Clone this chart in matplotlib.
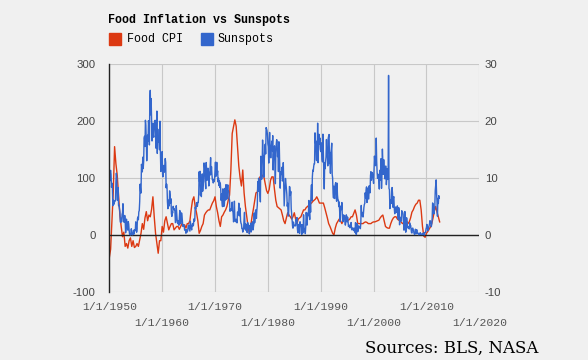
import matplotlib
matplotlib.use('Agg')
import matplotlib.pyplot as plt
from matplotlib.patches import Rectangle
import numpy as np

plt.rcParams['axes.unicode_minus'] = False

# monthly sunspot numbers, Jan 1950 .. Jun 2012 (one row per year)
sun_start = 1950
sunspots = [
    101.6, 94.8, 109.7, 113.4, 106.2, 83.6, 91.0, 85.2, 51.3, 61.4, 54.8, 54.1,
    59.9, 59.9, 59.9, 92.9, 108.5, 100.6, 61.5, 61.0, 83.1, 51.6, 52.4, 45.8,
    40.7, 22.7, 22.0, 29.1, 23.4, 36.4, 39.3, 54.9, 28.2, 23.8, 22.1, 34.3,
    26.5, 3.9, 10.0, 27.8, 12.5, 21.8, 8.6, 23.5, 19.3, 8.2, 1.6, 2.5,
    0.2, 0.5, 10.9, 1.8, 0.8, 0.2, 4.8, 8.4, 1.5, 7.0, 9.2, 7.6,
    23.1, 20.8, 4.9, 11.3, 28.9, 31.7, 26.7, 40.7, 42.7, 58.5, 89.2, 76.9,
    73.6, 124.0, 118.4, 110.7, 136.6, 116.6, 129.1, 169.6, 173.2, 155.3, 201.3, 192.1,
    165.0, 130.2, 157.4, 175.2, 164.6, 200.7, 187.2, 158.0, 235.8, 253.8, 210.9, 239.4,
    202.5, 164.9, 190.7, 196.0, 175.3, 171.5, 191.4, 200.2, 201.2, 181.5, 152.3, 187.6,
    217.4, 143.1, 185.7, 163.3, 172.0, 168.7, 149.6, 199.6, 145.2, 111.4, 124.0, 125.0,
    146.3, 106.0, 102.2, 122.0, 119.6, 110.2, 121.7, 134.1, 127.2, 82.8, 89.6, 85.6,
    57.9, 46.1, 53.0, 61.4, 51.0, 77.4, 70.2, 55.9, 63.6, 37.7, 32.6, 40.0,
    38.7, 50.3, 45.6, 46.4, 43.7, 42.0, 21.8, 21.8, 51.3, 39.5, 26.9, 23.2,
    19.8, 24.4, 17.1, 29.3, 43.0, 35.9, 19.6, 33.2, 38.8, 35.3, 23.4, 14.9,
    15.3, 17.7, 16.5, 8.6, 9.5, 9.1, 3.1, 9.3, 4.7, 6.1, 7.4, 15.1,
    17.5, 14.2, 11.7, 6.8, 24.1, 15.9, 11.9, 8.9, 16.8, 20.1, 15.8, 17.0,
    28.2, 24.4, 25.3, 48.7, 45.3, 47.7, 56.7, 51.2, 50.2, 57.2, 57.2, 70.4,
    110.9, 93.6, 111.8, 69.5, 86.5, 67.3, 91.5, 107.2, 76.8, 88.2, 94.3, 126.4,
    121.8, 111.9, 92.2, 81.2, 127.2, 110.3, 96.1, 109.3, 117.2, 107.7, 86.0, 109.8,
    104.4, 120.5, 135.8, 106.8, 120.0, 106.0, 96.8, 98.0, 91.3, 95.7, 93.5, 97.9,
    111.5, 127.8, 102.9, 109.5, 127.5, 106.8, 112.5, 93.0, 99.5, 86.6, 95.2, 83.5,
    91.3, 79.0, 60.7, 71.8, 57.5, 49.8, 81.0, 61.4, 50.2, 51.7, 63.2, 82.2,
    61.5, 88.4, 80.1, 63.2, 80.5, 88.0, 76.5, 76.8, 64.0, 61.3, 41.6, 45.3,
    43.4, 42.9, 46.0, 57.7, 42.4, 39.5, 23.1, 25.6, 59.3, 30.7, 23.9, 23.3,
    27.6, 26.0, 21.3, 40.3, 39.5, 36.0, 55.8, 33.6, 40.2, 47.1, 25.0, 20.5,
    18.9, 11.5, 11.5, 5.1, 9.0, 11.4, 28.2, 39.7, 13.9, 9.1, 19.4, 7.8,
    8.1, 4.3, 21.9, 18.8, 12.4, 12.2, 1.9, 16.4, 13.5, 20.6, 5.2, 15.3,
    16.4, 23.1, 8.7, 12.9, 18.6, 38.5, 21.4, 30.1, 44.0, 43.8, 29.1, 43.2,
    51.9, 93.6, 76.5, 99.7, 82.7, 95.1, 70.4, 58.1, 138.2, 125.1, 97.9, 122.7,
    166.6, 137.5, 138.0, 101.5, 134.4, 149.5, 159.4, 142.2, 188.4, 186.2, 183.3, 176.3,
    159.6, 155.0, 126.2, 164.1, 179.9, 157.3, 136.3, 135.4, 155.0, 164.7, 147.9, 174.4,
    114.0, 141.3, 135.5, 156.4, 127.5, 90.0, 143.8, 158.7, 167.3, 162.4, 137.5, 150.1,
    111.2, 163.6, 153.8, 122.0, 82.2, 110.4, 106.1, 107.6, 118.8, 94.7, 98.1, 127.0,
    84.3, 51.0, 66.5, 80.7, 99.2, 91.1, 82.2, 71.8, 50.3, 55.8, 33.3, 33.4,
    57.0, 85.1, 83.5, 69.7, 76.4, 46.1, 37.4, 25.5, 15.7, 12.0, 22.8, 18.7,
    16.5, 15.9, 17.2, 16.2, 27.5, 24.2, 30.7, 11.1, 3.9, 18.6, 16.2, 17.3,
    2.5, 23.2, 15.1, 18.5, 13.7, 1.1, 18.1, 7.4, 3.8, 35.4, 15.2, 6.8,
    10.4, 2.4, 14.7, 39.6, 33.0, 17.4, 33.0, 38.7, 33.9, 60.6, 39.9, 27.1,
    59.0, 40.0, 76.2, 88.0, 60.1, 101.8, 113.8, 111.6, 120.1, 125.1, 125.1, 179.2,
    161.3, 165.0, 131.4, 130.5, 138.5, 196.2, 126.9, 168.9, 176.7, 159.4, 170.3, 150.4,
    146.3, 161.8, 145.8, 132.3, 128.3, 176.9, 140.1, 109.6, 80.8, 126.7, 116.3, 128.7,
    136.9, 167.5, 141.9, 140.0, 121.3, 169.7, 173.7, 176.3, 125.3, 144.1, 108.2, 144.4,
    150.0, 161.1, 106.7, 99.8, 73.8, 65.2, 85.7, 64.5, 63.9, 88.7, 91.8, 82.6,
    59.3, 91.0, 69.8, 62.2, 61.3, 49.8, 57.9, 42.5, 23.5, 48.3, 51.0, 44.6,
    57.0, 35.0, 23.7, 23.6, 35.3, 29.2, 33.8, 21.6, 17.3, 22.7, 35.4, 32.9,
    23.2, 31.2, 24.3, 14.9, 17.7, 14.9, 12.8, 13.1, 19.6, 21.9, 11.2, 8.9,
    10.7, 12.6, 9.6, 7.6, 11.4, 11.8, 4.4, 21.8, 2.1, 0.9, 20.3, 10.3,
    5.7, 8.2, 16.1, 14.8, 13.1, 14.9, 11.1, 20.9, 51.9, 33.9, 37.9, 39.6,
    31.5, 38.2, 48.3, 53.6, 55.3, 74.1, 64.6, 78.4, 84.4, 57.0, 61.6, 82.0,
    63.8, 63.3, 86.3, 78.8, 74.0, 104.4, 111.1, 96.2, 105.0, 109.6, 104.7, 97.9,
    90.4, 112.8, 138.5, 125.5, 121.6, 124.9, 170.1, 130.5, 109.7, 99.4, 106.8, 104.4,
    95.6, 80.6, 113.5, 107.7, 96.6, 134.0, 81.8, 106.4, 150.7, 125.5, 106.5, 132.2,
    114.1, 107.4, 98.4, 120.7, 120.8, 88.3, 99.6, 116.4, 109.6, 97.5, 280.0, 81.6,
    79.5, 46.2, 61.5, 60.0, 55.2, 77.4, 83.3, 72.7, 48.7, 65.5, 67.3, 46.5,
    37.3, 45.8, 49.1, 39.3, 41.5, 43.2, 51.1, 40.9, 27.7, 48.0, 43.5, 17.9,
    31.3, 29.2, 24.5, 24.4, 42.6, 39.6, 39.9, 36.4, 22.1, 8.5, 18.0, 41.2,
    15.3, 4.9, 10.6, 30.2, 22.3, 13.9, 12.2, 12.9, 14.4, 10.5, 21.4, 13.6,
    16.8, 10.7, 4.5, 3.4, 11.7, 12.1, 9.7, 6.0, 2.4, 0.9, 1.7, 10.1,
    3.3, 2.1, 9.3, 2.9, 3.2, 3.4, 0.8, 0.5, 1.1, 2.9, 4.1, 0.8,
    1.5, 1.4, 0.7, 1.2, 2.9, 2.6, 3.5, 0.0, 4.2, 4.6, 4.2, 10.6,
    13.1, 18.6, 15.4, 7.9, 8.8, 13.5, 16.1, 19.6, 25.2, 23.5, 21.6, 14.5,
    19.0, 29.4, 56.2, 54.4, 41.6, 37.0, 43.9, 50.6, 78.0, 88.0, 96.7, 73.0,
    58.3, 32.9, 64.3, 55.2, 69.0, 64.5,
]

# food CPI, % change from a year earlier, quarterly (Jan, Apr, Jul, Oct)
food_start = 1950
food_cpi = [
    -4.0, -2.5, 2.5, 7.5,
    15.5, 12.5, 10.5, 7.0,
    3.5, 1.5, -0.3, 0.5,
    -2.0, -1.5, -2.3, -1.0,
    -0.5, -2.0, -1.0, -2.2,
    -2.0, -1.5, -2.0, -0.8,
    0.3, 2.0, 1.0, 3.0,
    4.1, 2.5, 3.5, 3.2,
    4.5, 6.7, 3.2, 0.3,
    -1.5, -3.2, -1.0, -1.0,
    1.5, 0.5, 2.5, 3.2,
    2.0, 0.9, 1.5, 2.0,
    2.0, 0.9, 1.2, 1.5,
    1.5, 1.0, 1.5, 2.0,
    1.5, 1.8, 1.2, 2.0,
    2.0, 2.5, 4.5, 6.1,
    6.7, 5.0, 3.9, 2.5,
    0.3, 0.8, 1.5, 2.0,
    3.5, 3.9, 4.2, 4.4,
    4.4, 5.0, 5.6, 6.0,
    6.7, 5.0, 3.9, 2.5,
    1.5, 3.2, 3.5, 4.0,
    4.4, 5.0, 6.1, 7.0,
    11.4, 17.8, 19.0, 20.2,
    19.1, 15.6, 12.1, 10.0,
    8.6, 11.4, 7.4, 5.0,
    3.2, 1.5, 0.3, 1.5,
    3.2, 4.5, 6.0, 7.4,
    7.5, 9.1, 10.2, 10.0,
    10.5, 10.2, 9.0, 7.8,
    7.3, 8.0, 9.6, 10.2,
    10.2, 8.0, 6.1, 5.0,
    4.8, 4.6, 4.4, 3.5,
    2.5, 2.0, 3.0, 3.9,
    3.5, 3.2, 2.8, 3.2,
    3.9, 2.8, 2.0, 2.8,
    3.0, 3.2, 3.8, 4.4,
    4.4, 4.8, 5.0, 5.2,
    5.4, 5.6, 5.9, 6.1,
    6.3, 6.7, 6.2, 5.6,
    5.6, 5.6, 5.6, 4.8,
    3.9, 3.0, 2.0, 1.5,
    0.9, 0.3, 0.0, 1.2,
    2.0, 2.4, 2.8, 2.5,
    2.0, 2.5, 3.2, 3.0,
    2.6, 2.6, 2.8, 3.2,
    3.2, 3.8, 4.4, 3.5,
    2.0, 2.0, 2.0, 2.0,
    2.0, 2.2, 2.3, 2.2,
    2.0, 2.0, 2.0, 2.2,
    2.3, 2.3, 2.4, 2.5,
    2.6, 3.0, 3.3, 3.5,
    2.5, 1.5, 1.3, 1.2,
    1.2, 2.0, 2.6, 3.0,
    3.2, 3.2, 2.8, 2.6,
    2.6, 2.2, 2.0, 2.2,
    2.6, 2.4, 2.0, 2.3,
    3.0, 4.0, 4.4, 5.0,
    5.4, 5.6, 6.1, 6.1,
    4.4, 1.5, -0.2, -0.4,
    0.3, 0.6, 1.0, 1.4,
    2.0, 3.0, 4.2, 5.0,
    4.0, 3.2, 2.3,
]

year_ticks = [1950, 1970, 1990, 2010]
year_ticks2 = [1960, 1980, 2000, 2020]
left_ticks = [-100, 0, 100, 200, 300]
right_ticks = [-10, 0, 10, 20, 30]

red = '#dc3912'
blue = '#3366cc'
bg = '#f0f0f0'

sun_x = sun_start + np.arange(len(sunspots)) / 12
food_x = food_start + np.arange(len(food_cpi)) / 4

fig = plt.figure(figsize=(5.88, 3.6), dpi=100, facecolor=bg)
ax = fig.add_axes([109.3 / 588, 68 / 360, 370 / 588, 228 / 360])
ax.set_facecolor(bg)
ax2 = ax.twinx()

# food CPI on the bottom axes (right scale), sunspots on top (left scale)
ax.plot(food_x, food_cpi, color=red, lw=1.0)
ax.set_xlim(1950, 2020)
ax.set_ylim(-10, 30)
ax.yaxis.tick_right()
ax.set_yticks(right_ticks)
ax.set_xticks(year_ticks)
ax.set_xticks(year_ticks2, minor=True)
ax.set_xticklabels(['1/1/%d' % y for y in year_ticks])
ax.set_xticklabels(['1/1/%d' % y for y in year_ticks2], minor=True)
ax.grid(True, which='both', color='#c8c8c8', lw=0.8)
ax.axhline(0, color='#222222', lw=1.0)
ax.tick_params(axis='x', which='both', length=0, colors='#555555', labelsize=8.2)
ax.tick_params(axis='x', which='major', pad=7)
ax.tick_params(axis='x', which='minor', pad=19)
for lab in ax.get_xticklabels(which='both'):
    lab.set_family('Liberation Mono')
ax.tick_params(axis='y', length=0, pad=4, colors='#444444', labelsize=8.2)
for lab in ax.get_yticklabels():
    lab.set_family('Liberation Sans')
for s in ax.spines.values():
    s.set_visible(False)

ax2.plot(sun_x, sunspots, color=blue, lw=1.0)
ax2.set_ylim(-100, 300)
ax2.yaxis.tick_left()
ax2.set_yticks(left_ticks)
ax2.tick_params(axis='y', length=0, pad=10, colors='#444444', labelsize=8.2)
for lab in ax2.get_yticklabels():
    lab.set_family('Liberation Sans')
for name, s in ax2.spines.items():
    s.set_visible(name == 'left')
ax2.spines['left'].set_color('#222222')
ax2.spines['left'].set_linewidth(1.0)

# title and legend
fig.text(108 / 588, 1 - 20 / 360, 'Food Inflation vs Sunspots', fontsize=8.4,
         fontweight='bold', family='Liberation Mono', va='center', ha='left')
fig.add_artist(Rectangle((109 / 588, 1 - 45 / 360), 12 / 588, 12 / 360,
                         transform=fig.transFigure, color=red))
fig.text(127 / 588, 1 - 39 / 360, 'Food CPI', fontsize=8.4,
         family='Liberation Mono', va='center', ha='left')
fig.add_artist(Rectangle((201 / 588, 1 - 45 / 360), 12 / 588, 12 / 360,
                         transform=fig.transFigure, color=blue))
fig.text(218 / 588, 1 - 39 / 360, 'Sunspots', fontsize=8.4,
         family='Liberation Mono', va='center', ha='left')

fig.text(538 / 588, 1 - 348 / 360, 'Sources: BLS, NASA', fontsize=12,
         family='DejaVu Serif', va='center', ha='right')

fig.savefig('out.png', dpi=100, facecolor=bg)
